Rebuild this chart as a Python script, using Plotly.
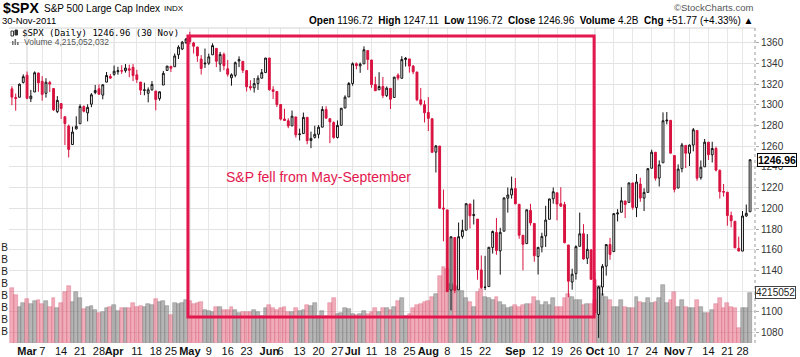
import plotly.graph_objects as go

# ---------------- data ----------------
dates = [
    "2011-02-23", "2011-02-24", "2011-02-25", "2011-02-28",
    "2011-03-01", "2011-03-02", "2011-03-03", "2011-03-04", "2011-03-07", "2011-03-08", "2011-03-09", "2011-03-10",
    "2011-03-11", "2011-03-14", "2011-03-15", "2011-03-16", "2011-03-17", "2011-03-18", "2011-03-21", "2011-03-22",
    "2011-03-23", "2011-03-24", "2011-03-25", "2011-03-28", "2011-03-29", "2011-03-30", "2011-03-31",
    "2011-04-01", "2011-04-04", "2011-04-05", "2011-04-06", "2011-04-07", "2011-04-08", "2011-04-11", "2011-04-12",
    "2011-04-13", "2011-04-14", "2011-04-15", "2011-04-18", "2011-04-19", "2011-04-20", "2011-04-21", "2011-04-25",
    "2011-04-26", "2011-04-27", "2011-04-28", "2011-04-29",
    "2011-05-02", "2011-05-03", "2011-05-04", "2011-05-05", "2011-05-06", "2011-05-09", "2011-05-10", "2011-05-11",
    "2011-05-12", "2011-05-13", "2011-05-16", "2011-05-17", "2011-05-18", "2011-05-19", "2011-05-20", "2011-05-23",
    "2011-05-24", "2011-05-25", "2011-05-26", "2011-05-27", "2011-05-31",
    "2011-06-01", "2011-06-02", "2011-06-03", "2011-06-06", "2011-06-07", "2011-06-08", "2011-06-09", "2011-06-10",
    "2011-06-13", "2011-06-14", "2011-06-15", "2011-06-16", "2011-06-17", "2011-06-20", "2011-06-21", "2011-06-22",
    "2011-06-23", "2011-06-24", "2011-06-27", "2011-06-28", "2011-06-29", "2011-06-30",
    "2011-07-01", "2011-07-05", "2011-07-06", "2011-07-07", "2011-07-08", "2011-07-11", "2011-07-12", "2011-07-13",
    "2011-07-14", "2011-07-15", "2011-07-18", "2011-07-19", "2011-07-20", "2011-07-21", "2011-07-22", "2011-07-25",
    "2011-07-26", "2011-07-27", "2011-07-28", "2011-07-29",
    "2011-08-01", "2011-08-02", "2011-08-03", "2011-08-04", "2011-08-05", "2011-08-08", "2011-08-09", "2011-08-10",
    "2011-08-11", "2011-08-12", "2011-08-15", "2011-08-16", "2011-08-17", "2011-08-18", "2011-08-19", "2011-08-22",
    "2011-08-23", "2011-08-24", "2011-08-25", "2011-08-26", "2011-08-29", "2011-08-30", "2011-08-31",
    "2011-09-01", "2011-09-02", "2011-09-06", "2011-09-07", "2011-09-08", "2011-09-09", "2011-09-12", "2011-09-13",
    "2011-09-14", "2011-09-15", "2011-09-16", "2011-09-19", "2011-09-20", "2011-09-21", "2011-09-22", "2011-09-23",
    "2011-09-26", "2011-09-27", "2011-09-28", "2011-09-29", "2011-09-30",
    "2011-10-03", "2011-10-04", "2011-10-05", "2011-10-06", "2011-10-07", "2011-10-10", "2011-10-11", "2011-10-12",
    "2011-10-13", "2011-10-14", "2011-10-17", "2011-10-18", "2011-10-19", "2011-10-20", "2011-10-21", "2011-10-24",
    "2011-10-25", "2011-10-26", "2011-10-27", "2011-10-28", "2011-10-31",
    "2011-11-01", "2011-11-02", "2011-11-03", "2011-11-04", "2011-11-07", "2011-11-08", "2011-11-09", "2011-11-10",
    "2011-11-11", "2011-11-14", "2011-11-15", "2011-11-16", "2011-11-17", "2011-11-18", "2011-11-21", "2011-11-22",
    "2011-11-23", "2011-11-25", "2011-11-28", "2011-11-29", "2011-11-30",
]

opens = [
    1315.4, 1307.1, 1307.3, 1321.6,
    1328.6, 1305.9, 1312.4, 1330.7, 1322.7, 1311.1, 1321.6, 1315.7, 1293.4, 1301.2, 1288.5, 1279.5, 1261.6, 1276.7,
    1281.7, 1298.3, 1292.2, 1300.6, 1311.8, 1315.5, 1309.4, 1321.9, 1327.4,
    1329.5, 1332.0, 1333.0, 1333.0, 1334.8, 1336.2, 1329.0, 1322.0, 1314.0, 1311.1, 1314.5, 1313.3, 1306.0, 1319.1,
    1333.2, 1337.1, 1336.8, 1348.4, 1353.9, 1360.1,
    1365.2, 1359.8, 1355.9, 1344.2, 1339.5, 1340.2, 1348.3, 1354.5, 1339.4, 1348.7, 1334.8, 1326.1, 1328.5, 1342.4,
    1342.0, 1333.1, 1317.7, 1316.4, 1320.6, 1325.7, 1331.1,
    1345.2, 1314.6, 1312.9, 1300.3, 1286.3, 1284.6, 1279.6, 1288.3, 1271.3, 1272.2, 1287.9, 1265.5, 1268.6, 1271.5,
    1278.4, 1295.5, 1286.6, 1283.0, 1268.4, 1280.2, 1296.9, 1307.6,
    1320.6, 1339.6, 1337.6, 1339.6, 1352.4, 1343.3, 1319.6, 1314.5, 1317.7, 1308.9, 1315.9, 1307.1, 1328.7, 1325.6,
    1343.8, 1344.3, 1337.4, 1331.7, 1304.8, 1300.1,
    1292.6, 1286.6, 1254.3, 1260.2, 1200.3, 1198.5, 1121.0, 1171.8, 1121.3, 1172.9, 1178.9, 1204.2, 1193.0, 1189.6,
    1140.5, 1123.6, 1124.4, 1162.2, 1176.7, 1158.9, 1177.9, 1209.8, 1213.0,
    1219.1, 1203.9, 1174.0, 1165.9, 1198.0, 1185.4, 1153.5, 1162.6, 1173.3, 1189.4, 1209.2, 1215.0, 1204.5, 1203.6,
    1164.6, 1128.8, 1136.9, 1163.3, 1175.4, 1151.7, 1159.9,
    1131.2, 1097.4, 1124.0, 1144.1, 1165.0, 1158.2, 1194.6, 1196.2, 1207.0, 1205.7, 1224.5, 1200.8, 1223.5, 1209.9,
    1215.4, 1238.7, 1254.2, 1229.2, 1244.0, 1284.4, 1285.0,
    1251.0, 1219.6, 1238.3, 1260.8, 1253.2, 1261.1, 1275.2, 1229.6, 1240.1, 1263.9, 1251.7, 1257.8, 1236.6, 1216.2,
    1215.6, 1193.0, 1187.5, 1161.4, 1158.7, 1192.6, 1196.7,
]

highs = [
    1317.9, 1310.9, 1320.6, 1329.4,
    1332.1, 1314.4, 1332.3, 1331.1, 1327.7, 1325.7, 1323.2, 1315.7, 1308.4, 1301.2, 1288.5, 1280.9, 1278.9, 1288.9,
    1300.6, 1299.4, 1300.5, 1311.3, 1319.2, 1319.7, 1319.5, 1331.7, 1329.8,
    1337.9, 1336.7, 1338.2, 1339.4, 1338.8, 1339.5, 1333.8, 1322.0, 1321.4, 1316.8, 1322.9, 1313.3, 1312.7, 1332.7,
    1337.5, 1337.6, 1349.6, 1357.5, 1361.7, 1364.6,
    1370.6, 1360.8, 1355.9, 1348.0, 1354.4, 1349.4, 1359.4, 1354.5, 1351.1, 1350.5, 1343.3, 1330.4, 1341.8, 1346.8,
    1342.0, 1333.1, 1323.7, 1325.9, 1328.5, 1334.6, 1345.2,
    1345.2, 1318.0, 1312.9, 1300.3, 1296.2, 1287.0, 1294.5, 1288.3, 1277.0, 1292.5, 1287.9, 1274.1, 1279.8, 1280.4,
    1298.6, 1298.6, 1286.6, 1283.9, 1284.9, 1296.8, 1309.2, 1322.0,
    1341.0, 1340.9, 1340.9, 1356.5, 1352.4, 1343.3, 1327.2, 1331.5, 1326.9, 1317.7, 1315.9, 1327.0, 1330.4, 1347.0,
    1346.1, 1344.3, 1338.5, 1331.7, 1316.3, 1304.2,
    1307.4, 1286.6, 1261.2, 1260.2, 1218.1, 1198.5, 1172.9, 1171.8, 1186.3, 1189.0, 1204.5, 1204.2, 1208.5, 1189.6,
    1154.5, 1154.1, 1162.4, 1178.6, 1190.7, 1181.2, 1210.3, 1220.1, 1230.7,
    1229.3, 1203.9, 1174.0, 1198.6, 1204.4, 1185.4, 1162.5, 1176.4, 1202.4, 1209.1, 1220.1, 1215.0, 1220.4, 1206.3,
    1164.6, 1141.7, 1164.2, 1195.9, 1184.7, 1175.1, 1159.9,
    1139.0, 1125.1, 1146.1, 1165.5, 1171.4, 1194.9, 1199.2, 1220.3, 1207.5, 1224.6, 1224.6, 1233.1, 1229.6, 1219.4,
    1239.0, 1256.6, 1254.2, 1246.3, 1292.7, 1293.0, 1285.0,
    1251.0, 1242.5, 1263.2, 1260.8, 1261.7, 1277.6, 1275.2, 1246.2, 1267.0, 1263.9, 1264.3, 1259.6, 1237.7, 1223.5,
    1215.6, 1196.8, 1187.5, 1172.7, 1197.4, 1203.7, 1247.1,
]

lows = [
    1299.6, 1294.3, 1307.3, 1320.6,
    1305.4, 1302.6, 1312.4, 1312.6, 1304.0, 1306.9, 1312.3, 1294.2, 1292.0, 1286.4, 1261.1, 1249.1, 1261.6, 1276.2,
    1281.7, 1292.7, 1284.0, 1297.7, 1310.2, 1310.2, 1305.3, 1321.9, 1325.0,
    1328.1, 1329.1, 1330.0, 1331.1, 1326.6, 1322.9, 1321.1, 1309.5, 1309.2, 1302.4, 1313.7, 1294.7, 1304.0, 1319.1,
    1332.8, 1331.7, 1336.8, 1344.3, 1352.9, 1358.7,
    1358.6, 1349.5, 1341.5, 1329.2, 1335.6, 1338.6, 1348.3, 1336.4, 1332.0, 1333.4, 1327.3, 1318.5, 1326.6, 1336.4,
    1330.7, 1312.9, 1313.9, 1311.8, 1314.4, 1325.7, 1331.1,
    1313.7, 1305.6, 1297.9, 1284.9, 1284.7, 1277.4, 1279.6, 1268.3, 1265.6, 1272.2, 1261.9, 1258.1, 1267.4, 1267.6,
    1278.4, 1286.8, 1262.9, 1267.2, 1267.5, 1280.2, 1296.9, 1307.6,
    1318.4, 1334.3, 1330.9, 1339.6, 1333.7, 1316.4, 1313.3, 1314.5, 1306.5, 1307.5, 1295.9, 1307.1, 1323.7, 1325.6,
    1337.0, 1331.1, 1329.6, 1303.5, 1299.2, 1282.9,
    1274.7, 1254.0, 1234.6, 1199.5, 1168.1, 1119.3, 1101.5, 1118.0, 1121.3, 1170.7, 1178.9, 1180.5, 1184.4, 1131.0,
    1122.1, 1121.1, 1124.4, 1156.3, 1155.1, 1135.9, 1177.9, 1195.8, 1209.4,
    1203.9, 1170.6, 1140.1, 1165.9, 1183.3, 1148.4, 1136.1, 1157.4, 1162.7, 1189.4, 1204.5, 1188.4, 1201.3, 1166.2,
    1114.2, 1121.4, 1131.1, 1163.3, 1150.4, 1146.2, 1131.3,
    1098.9, 1074.8, 1115.7, 1135.0, 1150.3, 1158.2, 1187.3, 1196.2, 1190.6, 1205.7, 1198.6, 1191.5, 1206.3, 1197.3,
    1215.4, 1238.7, 1226.8, 1221.1, 1244.0, 1281.1, 1253.2,
    1215.4, 1219.6, 1234.8, 1238.9, 1240.8, 1255.0, 1226.6, 1227.7, 1240.1, 1246.7, 1244.3, 1235.7, 1209.4, 1211.4,
    1183.2, 1181.7, 1161.8, 1158.7, 1158.7, 1191.8, 1196.7,
]

closes = [
    1307.4, 1306.1, 1319.9, 1327.2,
    1306.3, 1308.4, 1331.0, 1321.2, 1310.1, 1321.8, 1320.0, 1295.1, 1304.3, 1296.4, 1281.9, 1256.9, 1273.7, 1279.2,
    1298.4, 1293.8, 1297.5, 1309.7, 1313.8, 1310.2, 1319.4, 1328.3, 1325.8,
    1332.4, 1332.9, 1332.6, 1335.5, 1333.5, 1328.2, 1324.5, 1314.2, 1314.4, 1314.5, 1319.7, 1305.1, 1312.6, 1330.4,
    1337.4, 1335.3, 1347.2, 1355.7, 1360.5, 1363.6,
    1361.2, 1356.6, 1347.3, 1335.1, 1340.2, 1346.3, 1357.2, 1342.1, 1348.7, 1337.8, 1329.5, 1329.0, 1340.7, 1343.6,
    1333.3, 1317.4, 1316.3, 1320.5, 1325.7, 1331.1, 1345.2,
    1314.6, 1312.9, 1300.2, 1286.2, 1284.9, 1279.6, 1289.0, 1271.0, 1271.8, 1287.9, 1265.4, 1267.6, 1271.5, 1278.4,
    1295.5, 1287.1, 1283.5, 1268.5, 1280.1, 1296.7, 1307.4, 1320.6,
    1339.7, 1337.9, 1339.2, 1353.2, 1343.8, 1319.5, 1313.6, 1317.7, 1308.9, 1316.1, 1305.4, 1326.7, 1325.8, 1343.8,
    1345.0, 1337.4, 1331.9, 1304.9, 1300.7, 1292.3,
    1286.9, 1254.1, 1260.3, 1200.1, 1199.4, 1119.5, 1172.5, 1120.8, 1172.6, 1178.8, 1204.5, 1192.8, 1193.9, 1140.7,
    1123.5, 1123.8, 1162.4, 1177.6, 1159.3, 1176.8, 1210.1, 1212.9, 1218.9,
    1204.4, 1174.0, 1165.2, 1198.6, 1185.9, 1154.2, 1162.3, 1172.9, 1188.7, 1209.1, 1216.0, 1204.1, 1202.1, 1166.8,
    1129.6, 1136.4, 1163.0, 1175.4, 1151.1, 1160.4, 1131.4,
    1099.2, 1124.0, 1144.0, 1165.0, 1155.5, 1194.9, 1195.5, 1207.3, 1203.7, 1224.6, 1200.9, 1225.4, 1209.9, 1215.4,
    1238.3, 1254.2, 1229.1, 1242.0, 1284.6, 1285.1, 1253.3,
    1218.3, 1237.9, 1261.2, 1253.2, 1261.1, 1275.9, 1229.1, 1239.7, 1263.9, 1251.8, 1257.8, 1236.9, 1216.1, 1215.7,
    1193.0, 1188.0, 1161.8, 1158.7, 1192.6, 1195.2, 1246.96,
]

volumes_b = [  # billions of shares
    4.6, 4.0, 3.0, 3.4,
    3.7, 3.25, 3.5, 3.6, 3.3, 3.5, 3.05, 3.8, 2.97, 3.4, 4.3, 4.8, 3.45, 4.3, 3.8, 2.85, 3.05, 3.1, 2.8, 2.5, 2.6,
    2.95, 3.05,
    3.2, 2.7, 2.9, 2.95, 2.95, 3.4, 3.0, 3.1, 3.05, 3.3, 3.2, 3.7, 3.45, 3.5, 3.1, 2.35, 3.4, 3.3, 3.35, 3.6,
    3.5, 3.3, 3.4, 3.47, 2.77, 2.7, 2.6, 3.05, 3.0, 2.77, 2.77, 3.05, 2.77, 2.55, 2.63, 2.63, 2.63, 2.77, 2.63,
    2.3, 2.9,
    3.2, 2.9, 2.77, 2.9, 3.0, 2.63, 2.63, 2.9, 2.7, 2.77, 3.2, 3.1, 3.39, 2.3, 2.7, 2.3, 3.39, 3.8, 2.4, 2.5, 2.9,
    2.85,
    2.4, 2.35, 2.4, 2.7, 2.4, 2.6, 2.9, 2.63, 2.95, 2.95, 2.77, 3.0, 3.5, 3.8, 2.3, 2.4, 2.9, 3.2, 3.3, 3.47,
    3.5, 3.9, 4.1, 5.6, 6.4, 6.2, 5.0, 4.8, 4.7, 4.4, 3.75, 3.47, 3.05, 4.3, 4.5, 3.9, 3.8, 3.6, 3.9, 3.47, 3.2,
    2.9, 3.05,
    3.2, 3.05, 3.2, 3.25, 3.3, 3.9, 3.5, 3.2, 3.47, 3.2, 3.8, 3.05, 3.05, 3.8, 4.1, 3.9, 3.6, 3.6, 3.2, 3.3, 3.3,
    3.6, 4.8, 4.1, 3.9, 3.6, 3.05, 3.05, 3.6, 3.0, 2.9, 2.95, 3.9, 3.47, 3.4, 3.8, 3.33, 3.47, 3.8, 4.9, 3.4, 3.6,
    4.3, 3.05, 3.6, 3.05, 2.9, 2.95, 3.6, 3.05, 2.55, 2.49, 2.77, 3.25, 3.75, 2.95, 3.33, 3.05, 2.95, 1.3, 2.9,
    2.9, 4.215,
]

tick_dates = [
    "2011-03-01", "2011-03-07", "2011-03-14", "2011-03-21", "2011-03-28",
    "2011-04-01", "2011-04-11", "2011-04-18", "2011-04-25",
    "2011-05-02", "2011-05-09", "2011-05-16", "2011-05-23",
    "2011-06-01", "2011-06-06", "2011-06-13", "2011-06-20", "2011-06-27",
    "2011-07-01", "2011-07-11", "2011-07-18", "2011-07-25",
    "2011-08-01", "2011-08-08", "2011-08-15", "2011-08-22",
    "2011-09-01", "2011-09-12", "2011-09-19", "2011-09-26",
    "2011-10-03", "2011-10-10", "2011-10-17", "2011-10-24",
    "2011-11-01", "2011-11-07", "2011-11-14", "2011-11-21", "2011-11-28",
]
tick_labels = [
    "Mar", "7", "14", "21", "28",
    "Apr", "11", "18", "25",
    "May", "9", "16", "23",
    "Jun", "6", "13", "20", "27",
    "Jul", "11", "18", "25",
    "Aug", "8", "15", "22",
    "Sep", "12", "19", "26",
    "Oct", "10", "17", "24",
    "Nov", "7", "14", "21", "28",
]
month_names = ["Mar", "Apr", "May", "Jun", "Jul", "Aug", "Sep", "Oct", "Nov"]
price_ticks = [1080, 1100, 1120, 1140, 1160, 1180, 1200, 1220, 1240, 1260, 1280, 1300, 1320, 1340, 1360]
volume_ticks = [1, 2, 3, 4, 5, 6, 7, 8]

# ---------------- layout geometry ----------------
W, H = 800, 357
ML, MR, MT, MB = 9, 45, 28, 14
PW, PH = W - ML - MR, H - MT - MB


def px_x(xp):
    return (xp - ML) / PW


def px_y(yp):
    return (H - MB - yp) / PH


RED = "#d8123f"
BOX_RED = "#e3174e"
FONT = "Liberation Sans, Arial, sans-serif"

n = len(dates)
xi = list(range(n))
pos = {d: i for i, d in enumerate(dates)}

vol_colors, vol_lines = [], []
for i in range(n):
    prev = closes[i - 1] if i > 0 else opens[0]
    if closes[i] < prev:
        vol_colors.append("rgba(222,70,100,0.45)")
        vol_lines.append("rgba(215,90,115,0.55)")
    else:
        vol_colors.append("rgba(128,128,128,0.58)")
        vol_lines.append("rgba(120,120,120,0.7)")

fig = go.Figure()
fig.add_trace(go.Bar(
    x=xi, y=volumes_b, width=1.0, yaxis="y",
    marker=dict(color=vol_colors, line=dict(color=vol_lines, width=0.6)),
    hoverinfo="skip", showlegend=False,
))
fig.add_trace(go.Candlestick(
    x=xi, open=opens, high=highs, low=lows, close=closes, yaxis="y2",
    increasing=dict(line=dict(color="#111111", width=1), fillcolor="#ffffff"),
    decreasing=dict(line=dict(color=RED, width=1), fillcolor=RED),
    whiskerwidth=0, hoverinfo="skip", showlegend=False,
))

tick_pos = [pos[d] for d in tick_dates]
tick_text = ["<b>%s</b>" % t if t in month_names else t for t in tick_labels]

shapes = []
for d, t in zip(tick_dates, tick_labels):
    if t in month_names:
        shapes.append(dict(type="line", xref="x", yref="paper", x0=pos[d], x1=pos[d], y0=0, y1=1,
                           line=dict(color="#cfcfcf", width=1), layer="below"))
shapes.append(dict(type="line", xref="paper", yref="paper", x0=0, x1=1, y0=1, y1=1,
                   line=dict(color="#d4d4d4", width=1)))
shapes.append(dict(type="line", xref="paper", yref="paper", x0=1, x1=1, y0=0, y1=1,
                   line=dict(color="#9a9a9a", width=1, dash="dot")))
shapes.append(dict(type="rect", xref="x", yref="y2",
                   x0=pos["2011-04-29"] + 0.5, x1=pos["2011-09-30"] + 0.8, y0=1095, y1=1366.5,
                   line=dict(color=BOX_RED, width=3), fillcolor="rgba(0,0,0,0)"))
shapes.append(dict(type="rect", xref="paper", yref="paper", x0=px_x(11), x1=px_x(13.5), y0=px_y(36), y1=px_y(31),
                   line=dict(color="#333", width=1), fillcolor="#fff"))
shapes.append(dict(type="rect", xref="paper", yref="paper", x0=px_x(15), x1=px_x(17.5), y0=px_y(35), y1=px_y(30),
                   line=dict(color="#333", width=1), fillcolor="#333"))
for bx, bh in [(12, 4), (14.5, 6), (17, 3)]:
    shapes.append(dict(type="rect", xref="paper", yref="paper", x0=px_x(bx), x1=px_x(bx + 1.6),
                       y0=px_y(45), y1=px_y(45 - bh), line=dict(width=0), fillcolor="#777"))

annotations = [
    dict(xref="paper", yref="paper", x=px_x(1), y=px_y(8), xanchor="left", yanchor="middle",
         text="<b>$SPX</b>", showarrow=False, font=dict(size=14, color="#000", family=FONT)),
    dict(xref="paper", yref="paper", x=px_x(42), y=px_y(8.5), xanchor="left", yanchor="middle",
         text="S&P 500 Large Cap Index", showarrow=False, font=dict(size=10, color="#000", family=FONT)),
    dict(xref="paper", yref="paper", x=px_x(162), y=px_y(8.5), xanchor="left", yanchor="middle",
         text="INDX", showarrow=False, font=dict(size=8, color="#000", family=FONT)),
    dict(xref="paper", yref="paper", x=px_x(0), y=px_y(20.5), xanchor="left", yanchor="middle",
         text="30-Nov-2011", showarrow=False, font=dict(size=9.5, color="#000", family=FONT)),
    dict(xref="paper", yref="paper", x=px_x(755), y=px_y(7), xanchor="right", yanchor="middle",
         text="©StockCharts.com", showarrow=False, font=dict(size=9.5, color="#555", family=FONT)),
    dict(xref="paper", yref="paper", x=px_x(755), y=px_y(20.5), xanchor="right", yanchor="middle",
         text="<b>Open</b> 1196.72  <b>High</b> 1247.11  <b>Low</b> 1196.72  <b>Close</b> 1246.96  "
              "<b>Volume</b> 4.2B  <b>Chg</b> +51.77 (+4.33%) ▲",
         showarrow=False, font=dict(size=10, color="#000", family=FONT)),
    dict(xref="paper", yref="paper", x=px_x(20), y=px_y(33), xanchor="left", yanchor="middle",
         text="$SPX (Daily) 1246.96 (30 Nov)", showarrow=False,
         font=dict(size=9, color="#000", family="DejaVu Sans Mono, monospace")),
    dict(xref="paper", yref="paper", x=px_x(22), y=px_y(42), xanchor="left", yanchor="middle",
         text="Volume 4,215,052,032", showarrow=False, font=dict(size=8.5, color="#555", family=FONT)),
    dict(xref="paper", yref="paper", x=px_x(318), y=px_y(177), xanchor="center", yanchor="middle",
         text="S&P fell from May-September", showarrow=False, font=dict(size=14, color=BOX_RED, family=FONT)),
    dict(xref="paper", yref="y2", x=1, y=closes[-1], xanchor="left", yanchor="middle", xshift=2,
         text="<b>%.2f</b>" % closes[-1], showarrow=False, bgcolor="#fff", bordercolor="#000", borderwidth=1,
         borderpad=0, font=dict(size=10.5, color="#000", family=FONT)),
    dict(xref="paper", yref="y", x=1, y=volumes_b[-1], xanchor="left", yanchor="middle", xshift=0,
         text="4215052", showarrow=False, bgcolor="#fff", bordercolor="#444", borderwidth=1,
         borderpad=0, font=dict(size=10, color="#222", family=FONT)),
]

fig.update_layout(
    width=W, height=H, margin=dict(l=ML, r=MR, t=MT, b=MB, pad=0, autoexpand=False),
    paper_bgcolor="#ffffff", plot_bgcolor="#ffffff",
    showlegend=False, hovermode=False, bargap=0,
    font=dict(family=FONT, size=10, color="#222"),
    xaxis=dict(range=[-0.77, 196.3], tickmode="array", tickvals=tick_pos, ticktext=tick_text,
               tickangle=0, showgrid=True, gridcolor="#e7e7e7", gridwidth=1, zeroline=False,
               showline=False, ticks="", tickfont=dict(size=11, color="#111", family=FONT),
               rangeslider=dict(visible=False), fixedrange=True, automargin=False),
    yaxis=dict(range=[0, PH / 11.9], side="left", tickmode="array", tickvals=volume_ticks,
               ticktext=["B"] * len(volume_ticks), showgrid=False, zeroline=False, showline=False,
               ticks="", tickfont=dict(size=10, color="#222", family=FONT), fixedrange=True,
               automargin=False),
    yaxis2=dict(range=[1069.9, 1374.2], overlaying="y", side="right", tickmode="array",
                tickvals=price_ticks, showgrid=True, gridcolor="#e3e3e3", gridwidth=1, zeroline=False,
                showline=False, ticks="outside", ticklen=3, tickcolor="#aaa",
                tickfont=dict(size=10, color="#333", family=FONT), fixedrange=True, automargin=False),
    shapes=shapes, annotations=annotations,
)

fig.write_html(
    "out.html",
    config={"displayModeBar": False, "responsive": False},
    post_script="document.body.style.margin='0px';document.body.style.padding='0px';",
)
